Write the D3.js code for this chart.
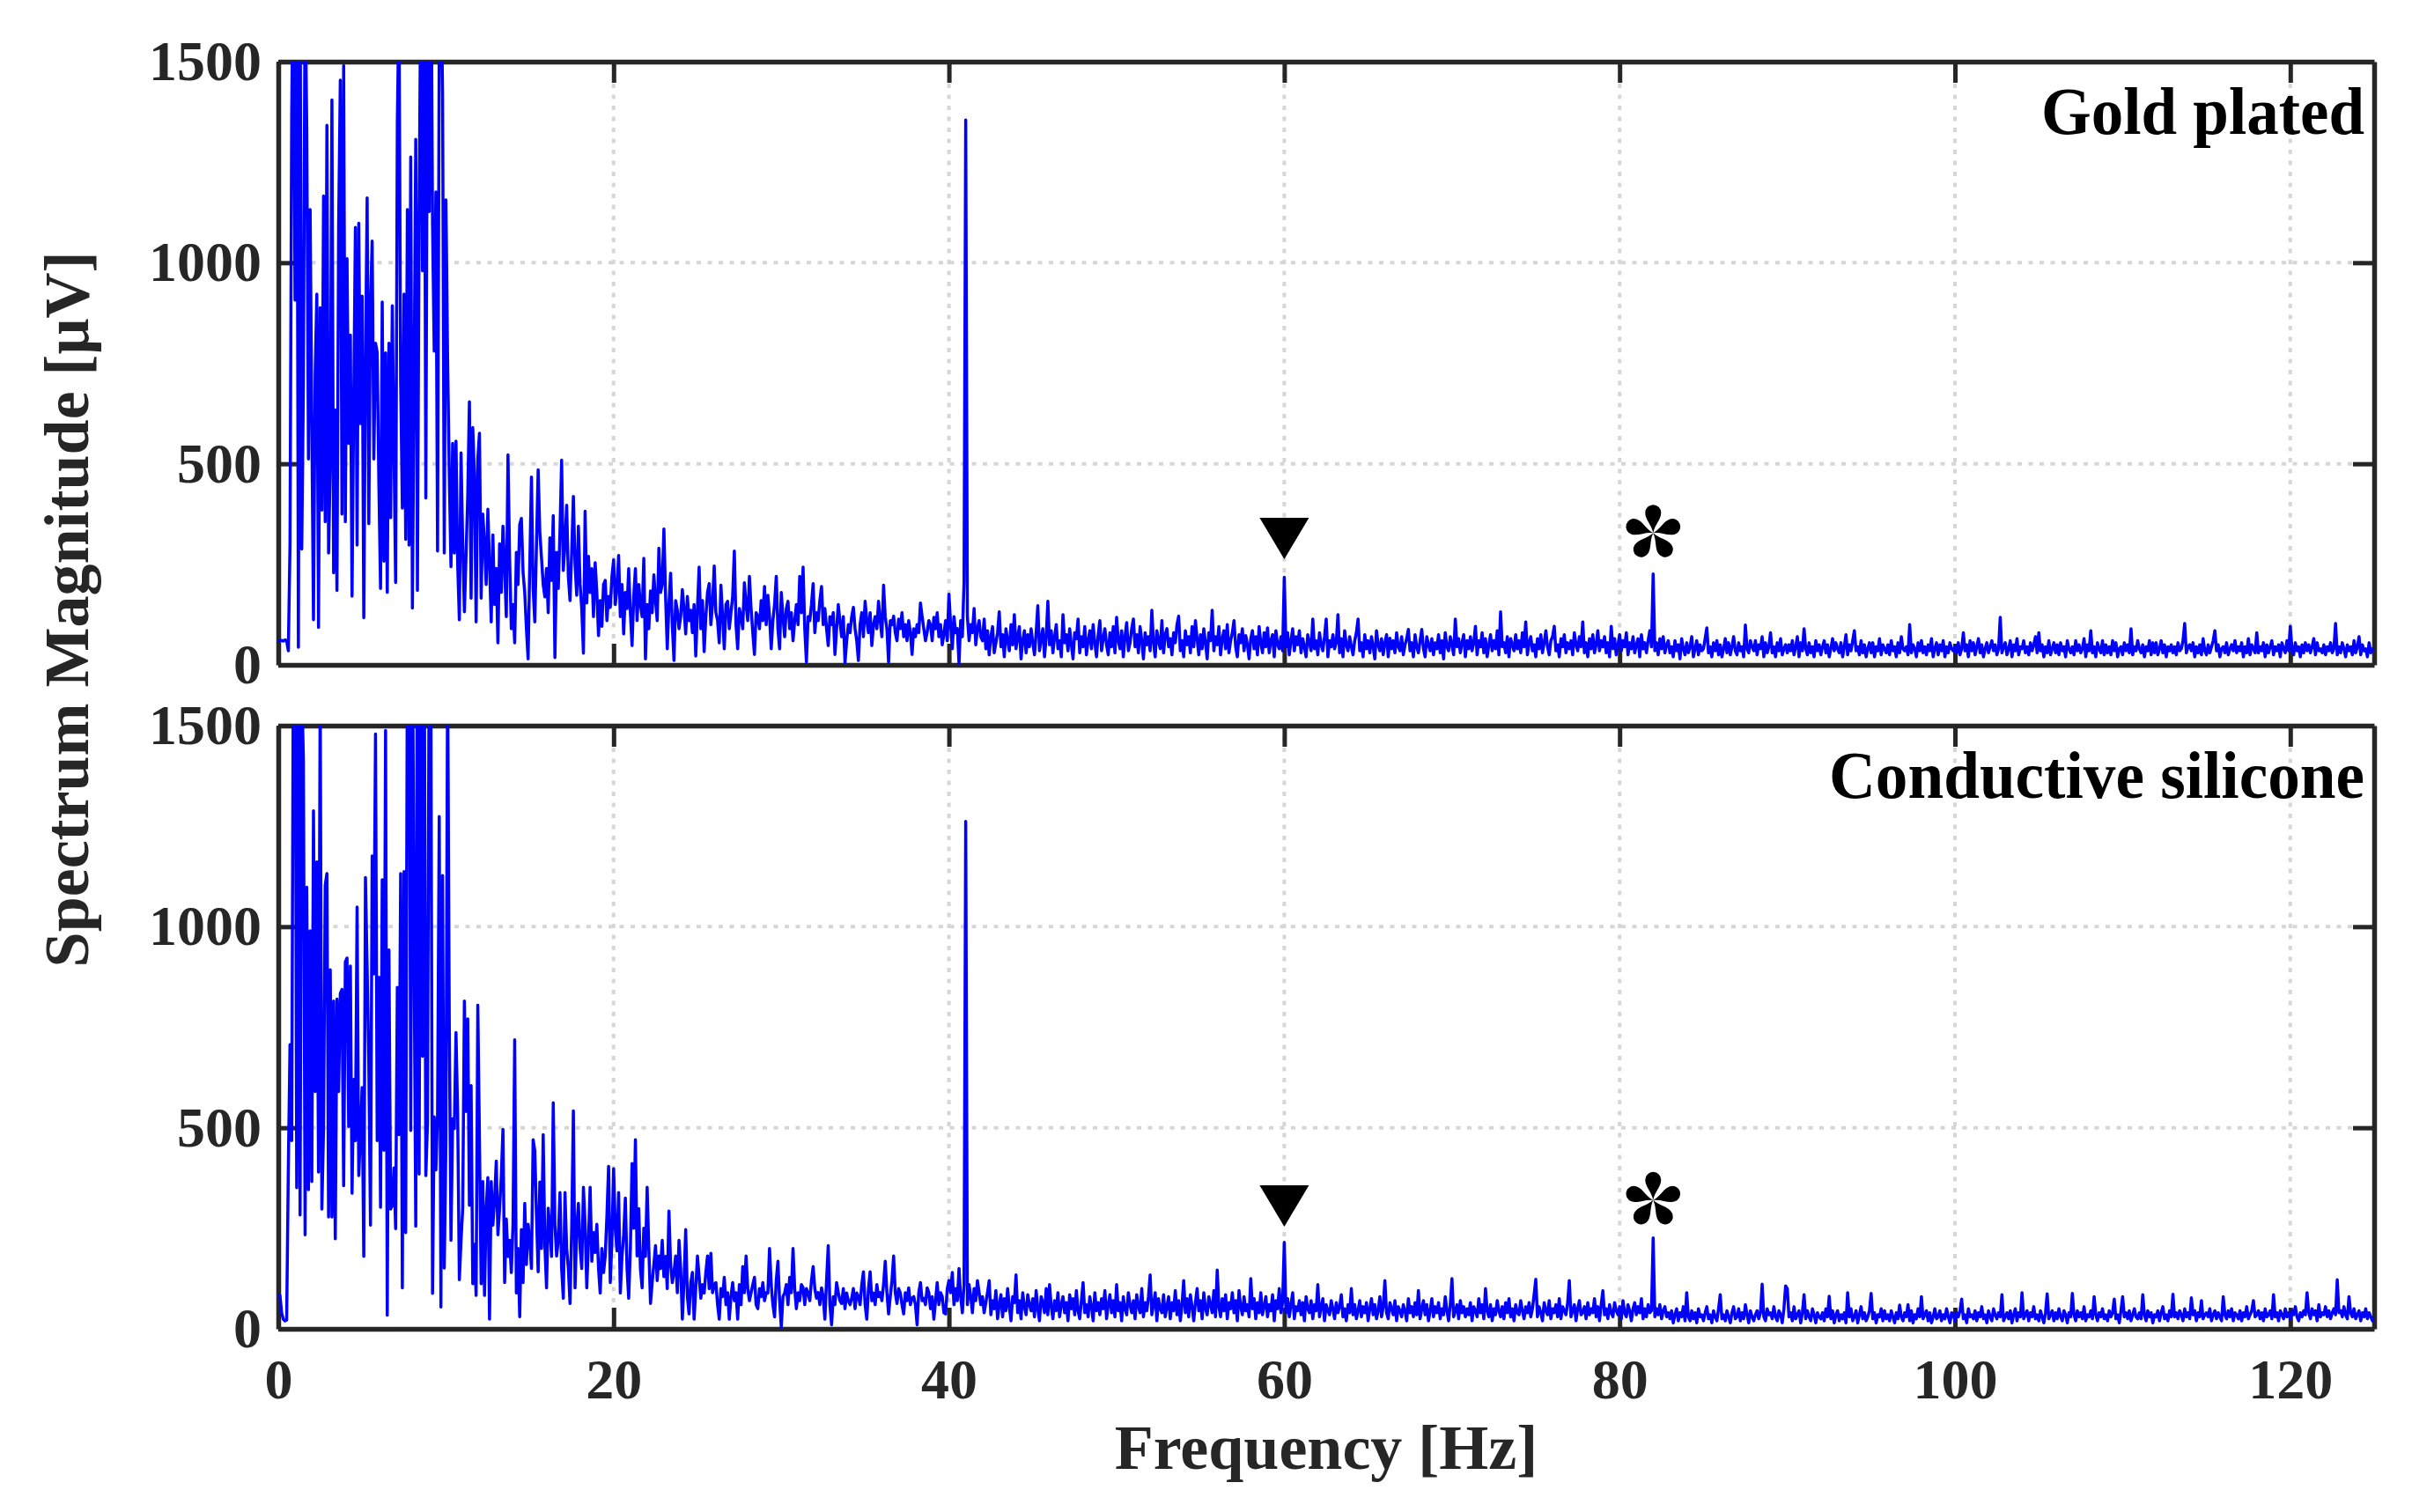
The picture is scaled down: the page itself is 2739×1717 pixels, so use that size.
<!DOCTYPE html>
<html>
<head>
<meta charset="utf-8">
<script src="https://cdn.jsdelivr.net/npm/d3@7"></script>
<style>
  body { margin: 0; background: #fff; }
  text { font-family: "Liberation Serif", "Times New Roman", serif; font-weight: bold; }
</style>
</head>
<body>
<div id="chart"></div>
<script>
// spectrum magnitude [uV], one value every freqStep Hz (10 values = 1 Hz per row)
const freqStep = 0.1;

const goldPlated = [
  58, 60, 61, 59, 62, 60, 35, 300, 1366, 1800,
  907, 1900, 44, 1750, 288, 700, 1700, 1330, 512, 1132,
  600, 112, 722, 922, 93, 888, 385, 1166, 356, 1342,
  278, 500, 1405, 229, 634, 185, 1093, 1454, 375, 1490,
  356, 1010, 551, 820, 171, 659, 1088, 298, 1098, 600,
  917, 117, 747, 1161, 351, 902, 1054, 512, 800, 776,
  450, 190, 902, 258, 776, 180, 800, 366, 893, 540,
  205, 1346, 1650, 700, 390, 922, 312, 1132, 298, 1263,
  141, 700, 1307, 185, 1122, 1700, 980, 1800, 415, 1600,
  1127, 1900, 1100, 780, 1176, 283, 1560, 1750, 1420, 278,
  1156, 756, 473, 244, 551, 278, 556, 249, 112, 527,
  300, 132, 273, 420, 654, 166, 590, 473, 107, 512,
  576, 166, 375, 302, 200, 387, 250, 107, 323, 150,
  240, 55, 301, 180, 345, 246, 120, 522, 260, 90,
  150, 55, 280, 200, 349, 364, 230, 180, 90, 15,
  250, 467, 190, 107, 300, 485, 330, 265, 200, 169,
  240, 130, 316, 210, 371, 18, 280, 190, 330, 509,
  235, 300, 397, 220, 160, 280, 419, 250, 173, 345,
  200, 140, 29, 382, 154, 270, 180, 239, 120, 254,
  180, 73, 160, 96, 200, 210, 110, 170, 143, 220,
  261, 150, 190, 272, 120, 200, 77, 180, 140, 239,
  130, 48, 170, 239, 110, 200, 150, 120, 265, 15,
  150, 90, 184, 130, 224, 160, 110, 290, 180, 200,
  338, 170, 40, 150, 228, 100, 11, 160, 136, 90,
  120, 187, 140, 77, 170, 110, 136, 80, 150, 22,
  140, 243, 90, 160, 33, 120, 180, 202, 100, 150,
  246, 130, 110, 55, 198, 120, 40, 150, 158, 90,
  130, 170, 283, 100, 40, 140, 120, 90, 204, 150,
  110, 220, 140, 80, 26, 130, 121, 90, 160, 110,
  195, 100, 173, 120, 40, 110, 150, 220, 90, 40,
  180, 120, 70, 140, 158, 90, 130, 60, 110, 150,
  100, 220, 130, 243, 90, 7, 120, 110, 150, 202,
  80, 130, 110, 160, 195, 100, 140, 90, 48, 120,
  100, 130, 26, 90, 150, 107, 70, 120, 5, 60,
  100, 80, 120, 143, 90, 60, 11, 100, 130, 70,
  158, 110, 80, 130, 48, 100, 120, 90, 158, 110,
  70, 198, 120, 90, 7, 110, 100, 121, 80, 60,
  114, 90, 130, 70, 100, 60, 110, 80, 26, 90,
  70, 100, 80, 154, 120, 90, 60, 81, 110, 100,
  60, 118, 90, 130, 70, 100, 50, 77, 110, 60,
  176, 100, 40, 120, 80, 90, 4, 110, 70, 206,
  1355, 120, 60, 100, 80, 140, 50, 90, 110, 70,
  60, 114, 40, 85, 25, 70, 95, 30, 55, 80,
  132, 45, 75, 20, 90, 60, 35, 100, 50, 125,
  40, 70, 95, 15, 60, 85, 30, 75, 45, 90,
  55, 25, 80, 147, 35, 65, 90, 20, 70, 158,
  50, 85, 30, 70, 100, 40, 60, 20, 125, 55,
  75, 35, 90, 50, 15, 80, 65, 114, 30, 70,
  45, 95, 25, 60, 85, 40, 100, 55, 20, 75,
  110, 35, 65, 90, 50, 25, 80, 45, 95, 30,
  118, 60, 40, 85, 20, 70, 105, 35, 55, 90,
  114, 45, 75, 30, 95, 60, 15, 80, 50, 70,
  35, 136, 55, 20, 85, 60, 40, 110, 30, 75,
  90, 45, 65, 25, 80, 55, 100, 121, 35, 60,
  20, 85, 50, 70, 30, 95, 45, 110, 65, 25,
  75, 40, 90, 55, 15, 80, 60, 136, 35, 70,
  50, 95, 25, 65, 85, 40, 100, 30, 60, 80,
  110, 45, 20, 75, 55, 90, 35, 73, 50, 15,
  65, 85, 40, 70, 25, 95, 55, 30, 80, 45,
  92, 30, 60, 75, 20, 85, 50, 40, 70, 35,
  218, 45, 80, 25, 60, 90, 35, 70, 50, 85,
  30, 65, 45, 20, 75, 55, 35, 114, 40, 60,
  25, 80, 50, 35, 70, 114, 20, 60, 45, 75,
  40, 55, 125, 30, 65, 20, 85, 50, 35, 70,
  45, 25, 60, 80, 114, 35, 55, 20, 75, 40,
  60, 30, 70, 45, 15, 85, 50, 35, 65, 25,
  55, 75, 20, 66, 40, 60, 30, 80, 45, 35,
  70, 25, 50, 65, 88, 35, 55, 20, 75, 45,
  30, 60, 88, 40, 20, 70, 50, 35, 65, 25,
  55, 40, 75, 30, 60, 15, 80, 45, 35, 70,
  50, 25, 114, 45, 65, 30, 55, 75, 20, 60,
  40, 70, 35, 55, 96, 25, 60, 45, 80, 30,
  65, 20, 50, 75, 35, 60, 40, 85, 25, 132,
  45, 55, 30, 70, 20, 65, 50, 35, 75, 40,
  60, 30, 80, 45, 107, 25, 55, 70, 35, 50,
  20, 65, 40, 75, 30, 55, 85, 45, 25, 60,
  70, 96, 35, 50, 20, 65, 45, 75, 30, 55,
  40, 60, 25, 80, 50, 35, 70, 45, 107, 30,
  55, 20, 65, 40, 75, 30, 50, 85, 35, 60,
  45, 70, 30, 55, 20, 96, 40, 65, 25, 50,
  75, 35, 60, 45, 80, 25, 55, 40, 70, 30,
  50, 65, 20, 75, 40, 55, 30, 60, 85, 45,
  226, 35, 55, 25, 65, 40, 70, 30, 50, 60,
  30, 45, 20, 60, 35, 50, 15, 65, 40, 25,
  55, 30, 45, 70, 20, 40, 60, 25, 50, 35,
  40, 65, 92, 30, 45, 20, 55, 35, 60, 25,
  50, 20, 40, 65, 30, 55, 25, 45, 70, 35,
  25, 55, 35, 45, 20, 99, 40, 30, 60, 45,
  35, 60, 25, 50, 40, 70, 20, 55, 30, 45,
  80, 30, 45, 20, 55, 35, 65, 25, 40, 50,
  30, 50, 35, 60, 25, 45, 70, 20, 55, 35,
  90, 40, 25, 55, 30, 45, 20, 60, 35, 50,
  25, 45, 60, 30, 50, 20, 40, 65, 35, 55,
  40, 30, 55, 20, 45, 75, 25, 50, 35, 60,
  85, 35, 45, 25, 60, 30, 50, 20, 40, 55,
  30, 55, 20, 45, 35, 65, 25, 50, 40, 30,
  50, 25, 60, 35, 45, 20, 55, 30, 70, 40,
  35, 45, 25, 100, 30, 50, 40, 20, 55, 35,
  60, 30, 45, 25, 50, 35, 65, 20, 40, 55,
  25, 50, 35, 60, 20, 45, 30, 55, 40, 35,
  45, 30, 55, 25, 40, 80, 35, 50, 20, 60,
  35, 55, 25, 45, 65, 30, 50, 20, 40, 55,
  30, 45, 60, 35, 50, 25, 40, 118, 30, 45,
  55, 25, 40, 60, 20, 50, 35, 65, 25, 45,
  40, 60, 30, 45, 25, 55, 35, 50, 70, 30,
  80, 35, 50, 20, 45, 30, 60, 25, 40, 55,
  30, 50, 25, 55, 35, 45, 20, 60, 40, 30,
  45, 25, 60, 35, 50, 30, 40, 65, 20, 50,
  35, 85, 30, 45, 20, 55, 40, 30, 60, 25,
  50, 30, 45, 25, 60, 35, 55, 20, 40, 45,
  25, 55, 35, 50, 30, 90, 25, 45, 35, 60,
  40, 30, 50, 20, 45, 35, 60, 25, 55, 30,
  55, 25, 40, 60, 30, 50, 20, 45, 35, 50,
  30, 45, 25, 55, 35, 40, 60, 103, 30, 45,
  50, 35, 55, 20, 45, 30, 50, 25, 65, 35,
  25, 50, 30, 45, 60, 85, 35, 50, 20, 40,
  45, 30, 55, 25, 40, 50, 35, 60, 30, 45,
  35, 55, 20, 45, 30, 65, 25, 50, 40, 30,
  80, 30, 45, 35, 55, 20, 50, 30, 45, 60,
  25, 45, 35, 50, 20, 55, 40, 30, 60, 35,
  96, 40, 25, 55, 35, 45, 20, 50, 30, 55,
  35, 50, 30, 45, 65, 25, 55, 35, 40, 30,
  50, 25, 45, 35, 55, 30, 40, 103, 25, 45,
  30, 55, 40, 20, 50, 35, 45, 25, 60, 30,
  45, 70, 25, 50, 35, 40, 20, 55, 30, 40,
  35
];

const conductiveSilicone = [
  85, 83, 40, 24, 20, 22, 400, 707, 468, 1700,
  1900, 351, 1750, 283, 1600, 1415, 234, 1098, 346, 990,
  366, 1288, 590, 1161, 390, 1600, 298, 498, 1103, 1132,
  278, 893, 278, 815, 224, 820, 590, 834, 844, 356,
  912, 922, 503, 902, 337, 620, 468, 1049, 381, 483,
  600, 180, 1122, 898, 659, 258, 1176, 883, 1479, 468,
  874, 302, 1117, 444, 1488, 34, 942, 298, 307, 400,
  249, 849, 483, 1132, 102, 1137, 239, 1700, 1900, 493,
  1800, 937, 255, 1900, 385, 1750, 678, 1850, 381, 512,
  1700, 1600, 88, 527, 395, 532, 1274, 54, 1127, 151,
  464, 1650, 756, 220, 522, 498, 737, 532, 122, 220,
  300, 815, 541, 771, 307, 605, 112, 210, 83, 805,
  468, 112, 366, 83, 298, 376, 24, 366, 258, 320,
  417, 234, 300, 378, 496, 115, 273, 180, 220, 140,
  260, 719, 89, 200, 30, 247, 115, 312, 160, 260,
  220, 150, 470, 443, 280, 142, 365, 200, 483, 207,
  102, 300, 247, 180, 562, 260, 181, 220, 339, 150,
  76, 339, 200, 150, 63, 250, 542, 102, 250, 312,
  200, 150, 352, 260, 102, 220, 352, 168, 240, 190,
  260, 150, 89, 200, 140, 181, 280, 404, 115, 220,
  398, 250, 194, 339, 89, 180, 234, 325, 150, 76,
  200, 411, 250, 470, 181, 299, 150, 102, 250, 180,
  352, 200, 63, 115, 160, 207, 120, 181, 150, 220,
  130, 180, 100, 293, 160, 115, 140, 181, 90, 220,
  150, 24, 120, 247, 80, 37, 115, 140, 24, 100,
  181, 130, 76, 110, 89, 140, 181, 100, 188, 90,
  110, 115, 60, 24, 100, 80, 128, 60, 90, 24,
  80, 115, 70, 90, 24, 110, 60, 155, 90, 181,
  100, 70, 90, 110, 128, 60, 50, 100, 80, 115,
  70, 90, 89, 200, 110, 60, 30, 120, 168, 70,
  4, 80, 89, 110, 60, 128, 90, 200, 100, 50,
  90, 70, 110, 102, 60, 100, 89, 70, 120, 155,
  100, 76, 90, 60, 102, 80, 24, 120, 207, 60,
  10, 80, 60, 115, 90, 70, 63, 100, 50, 89,
  70, 60, 76, 100, 50, 89, 80, 60, 110, 142,
  60, 24, 100, 142, 70, 89, 60, 110, 80, 90,
  70, 110, 168, 90, 37, 80, 120, 181, 90, 63,
  100, 89, 60, 37, 90, 70, 102, 60, 76, 80,
  60, 10, 90, 115, 70, 76, 60, 102, 90, 50,
  80, 24, 70, 115, 60, 90, 80, 40, 37, 100,
  120, 90, 140, 60, 100, 70, 150, 80, 40, 110,
  1262, 60, 110, 80, 40, 100, 70, 120, 90, 60,
  80, 40, 65, 90, 120, 35, 70, 50, 95, 25,
  60, 85, 30, 75, 45, 100, 55, 20, 80, 65,
  134, 40, 70, 25, 90, 55, 35, 85, 60, 45,
  75, 30, 95, 50, 20, 80, 65, 40, 100, 35,
  110, 55, 25, 70, 45, 90, 30, 60, 80, 40,
  65, 20, 85, 50, 75, 35, 95, 45, 25, 70,
  115, 40, 60, 30, 80, 55, 20, 90, 45, 65,
  35, 75, 50, 95, 25, 60, 85, 40, 70, 30,
  110, 45, 65, 20, 80, 50, 35, 90, 60, 40,
  70, 25, 85, 55, 40, 100, 30, 65, 45, 80,
  134, 35, 60, 90, 20, 75, 50, 40, 85, 30,
  55, 80, 25, 65, 45, 95, 35, 70, 20, 60,
  120, 40, 75, 30, 85, 55, 20, 65, 100, 45,
  70, 25, 90, 50, 35, 80, 60, 40, 95, 30,
  146, 55, 30, 75, 45, 85, 25, 65, 50, 90,
  40, 70, 20, 95, 55, 35, 80, 45, 60, 30,
  125, 50, 75, 25, 65, 40, 90, 35, 55, 80,
  30, 60, 45, 85, 20, 70, 50, 100, 40, 65,
  215, 40, 75, 30, 60, 90, 25, 55, 45, 70,
  35, 65, 20, 80, 50, 40, 70, 25, 60, 45,
  110, 30, 55, 75, 20, 60, 45, 35, 70, 50,
  25, 65, 40, 55, 85, 30, 50, 20, 60, 40,
  100, 35, 60, 25, 45, 70, 30, 55, 40, 65,
  20, 50, 75, 35, 60, 25, 45, 80, 30, 55,
  120, 40, 25, 65, 50, 35, 70, 20, 55, 45,
  30, 60, 45, 20, 75, 40, 55, 30, 65, 35,
  95, 25, 50, 70, 35, 60, 20, 45, 75, 30,
  55, 40, 65, 25, 50, 35, 80, 45, 20, 60,
  125, 30, 45, 60, 25, 70, 40, 55, 30, 50,
  35, 65, 20, 55, 45, 30, 75, 40, 60, 25,
  100, 45, 30, 60, 20, 50, 35, 70, 45, 30,
  55, 25, 65, 40, 75, 30, 50, 20, 60, 40,
  35, 70, 45, 25, 55, 40, 65, 30, 50, 85,
  123, 30, 55, 40, 20, 65, 45, 35, 70, 25,
  50, 40, 60, 30, 75, 25, 55, 45, 35, 65,
  120, 30, 45, 60, 20, 50, 70, 35, 40, 55,
  25, 65, 35, 50, 40, 75, 30, 55, 20, 60,
  95, 35, 50, 25, 60, 40, 30, 65, 45, 35,
  55, 25, 70, 40, 30, 60, 45, 20, 50, 65,
  35, 55, 40, 75, 25, 50, 30, 60, 40, 45,
  226, 30, 50, 35, 60, 25, 45, 55, 30, 40,
  25, 45, 15, 35, 50, 20, 40, 30, 55, 20,
  90, 30, 20, 45, 25, 40, 15, 50, 30, 35,
  20, 40, 55, 25, 35, 15, 45, 30, 20, 50,
  85, 25, 35, 20, 45, 30, 15, 40, 55, 25,
  30, 50, 20, 40, 25, 60, 35, 15, 45, 30,
  20, 35, 45, 25, 40, 111, 30, 20, 50, 35,
  40, 25, 55, 30, 20, 45, 35, 15, 50, 107,
  100, 30, 40, 20, 55, 25, 35, 45, 15, 40,
  85, 25, 45, 30, 20, 50, 35, 15, 40, 30,
  25, 40, 20, 50, 30, 81, 25, 45, 15, 35,
  45, 20, 35, 25, 40, 15, 90, 30, 50, 20,
  30, 45, 15, 35, 55, 25, 40, 20, 30, 45,
  88, 25, 40, 15, 35, 30, 50, 20, 45, 25,
  35, 20, 45, 30, 15, 40, 25, 59, 30, 20,
  40, 30, 60, 20, 45, 15, 35, 25, 50, 30,
  80, 25, 35, 45, 20, 40, 15, 30, 50, 25,
  30, 45, 20, 35, 25, 50, 30, 15, 40, 35,
  20, 40, 30, 45, 74, 25, 35, 15, 50, 30,
  35, 25, 45, 20, 40, 30, 55, 25, 35, 15,
  45, 30, 20, 50, 35, 25, 40, 30, 85, 20,
  30, 40, 25, 45, 15, 35, 50, 20, 40, 30,
  90, 25, 35, 45, 20, 40, 30, 55, 25, 35,
  20, 45, 30, 15, 40, 87, 25, 35, 45, 20,
  40, 25, 50, 30, 20, 45, 35, 15, 40, 30,
  88, 35, 20, 45, 30, 40, 25, 55, 20, 35,
  30, 45, 25, 80, 35, 20, 40, 30, 50, 25,
  35, 20, 45, 30, 40, 74, 25, 35, 15, 45,
  80, 30, 40, 25, 45, 20, 35, 50, 30, 25,
  40, 25, 85, 35, 20, 45, 30, 40, 15, 35,
  30, 45, 20, 40, 55, 25, 35, 20, 45, 30,
  86, 30, 40, 25, 45, 35, 20, 50, 30, 40,
  25, 77, 35, 45, 20, 40, 30, 70, 25, 35,
  40, 30, 50, 20, 35, 45, 25, 40, 30, 20,
  80, 35, 25, 45, 30, 50, 20, 40, 35, 25,
  45, 20, 40, 30, 55, 25, 35, 45, 70, 30,
  35, 45, 25, 40, 20, 50, 30, 35, 45, 25,
  85, 30, 40, 20, 45, 35, 25, 50, 30, 40,
  25, 45, 35, 55, 30, 20, 40, 30, 45, 35,
  90, 40, 25, 50, 35, 45, 20, 60, 30, 40,
  35, 55, 30, 45, 25, 40, 50, 35, 122, 40,
  45, 30, 55, 35, 25, 80, 40, 30, 50, 25,
  35, 45, 20, 40, 30, 50, 25, 40, 30, 20,
  30
];

const panelSeries = [goldPlated, conductiveSilicone];
const panelLabels = ["Gold plated", "Conductive silicone"];
const xTicks = [0, 20, 40, 60, 80, 100, 120];
const yTicks = [0, 500, 1000, 1500];

// annotation marks: inverted triangle over 60 Hz, asterisk over 82 Hz
const triangleFreq = 60;
const triangleTipValues = [263, 254];
const asteriskFreq = 82;
const asteriskCenterValues = [328, 320];

const width = 2739;
const height = 1717;
const plotLeft = 316;
const plotRight = 2696;
const panelTops = [70, 824];
const panelHeight = 685;
const tickLen = 24;
const axisColor = "#262626";

const svg = d3
  .select("#chart")
  .append("svg")
  .attr("width", width)
  .attr("height", height)
  .attr("viewBox", `0 0 ${width} ${height}`);

svg.append("rect").attr("width", width).attr("height", height).attr("fill", "#fff");

const x = d3.scaleLinear().domain([0, 125]).range([plotLeft, plotRight]);

// petal shape for the asterisk (pointing up, centre at 0,0)
const petal = "M0,0 C-2,-10 -9,-15 -9,-23 A9,9 0 1 1 9,-23 C9,-15 2,-10 0,0 Z";

panelSeries.forEach((series, i) => {
  const top = panelTops[i];
  const bottom = top + panelHeight;
  const y = d3.scaleLinear().domain([0, 1500]).range([bottom, top]);

  const g = svg.append("g").attr("class", "panel");

  // dotted grid
  g.append("g")
    .selectAll("line")
    .data(xTicks)
    .enter()
    .append("line")
    .attr("x1", d => x(d))
    .attr("x2", d => x(d))
    .attr("y1", top)
    .attr("y2", bottom)
    .attr("stroke", "#d6d6d6")
    .attr("stroke-width", 4)
    .attr("stroke-dasharray", "5 7.5");

  g.append("g")
    .selectAll("line")
    .data(yTicks)
    .enter()
    .append("line")
    .attr("x1", plotLeft)
    .attr("x2", plotRight)
    .attr("y1", d => y(d))
    .attr("y2", d => y(d))
    .attr("stroke", "#d6d6d6")
    .attr("stroke-width", 4)
    .attr("stroke-dasharray", "5 7.5");

  // axes box with inward ticks on all four sides
  const styleAxis = sel => {
    sel.select(".domain").attr("stroke", axisColor).attr("stroke-width", 5.5);
    sel.selectAll(".tick line").attr("stroke", axisColor).attr("stroke-width", 5);
    sel.selectAll(".tick text")
      .attr("fill", axisColor)
      .style("font-size", "64px");
  };

  g.append("g")
    .attr("transform", `translate(0,${bottom})`)
    .call(
      d3.axisBottom(x)
        .tickValues(xTicks)
        .tickSizeInner(-tickLen)
        .tickSizeOuter(0)
        .tickPadding(34)
        .tickFormat(i === panelSeries.length - 1 ? d3.format("d") : "")
    )
    .call(styleAxis);

  g.append("g")
    .attr("transform", `translate(0,${top})`)
    .call(d3.axisTop(x).tickValues(xTicks).tickSizeInner(-tickLen).tickSizeOuter(0).tickFormat(""))
    .call(styleAxis);

  g.append("g")
    .attr("transform", `translate(${plotLeft},0)`)
    .call(
      d3.axisLeft(y)
        .tickValues(yTicks)
        .tickSizeInner(-tickLen)
        .tickSizeOuter(0)
        .tickPadding(19)
        .tickFormat(d3.format("d"))
    )
    .call(styleAxis);

  g.append("g")
    .attr("transform", `translate(${plotRight},0)`)
    .call(d3.axisRight(y).tickValues(yTicks).tickSizeInner(-tickLen).tickSizeOuter(0).tickFormat(""))
    .call(styleAxis);

  // spectrum line, clipped to the axes
  const clipId = `clip-${i}`;
  svg.append("clipPath")
    .attr("id", clipId)
    .append("rect")
    .attr("x", plotLeft)
    .attr("y", top)
    .attr("width", plotRight - plotLeft)
    .attr("height", panelHeight);

  const line = d3
    .line()
    .x((d, j) => x(j * freqStep))
    .y(d => y(d));

  g.append("path")
    .datum(series)
    .attr("clip-path", `url(#${clipId})`)
    .attr("fill", "none")
    .attr("stroke", "#0000ff")
    .attr("stroke-width", 3.5)
    .attr("stroke-linejoin", "round")
    .attr("d", line);

  // inverted triangle at 60 Hz
  const tx = x(triangleFreq);
  const ty = y(triangleTipValues[i]);
  g.append("path")
    .attr("d", `M${tx - 28},${ty - 47} L${tx + 28},${ty - 47} L${tx},${ty} Z`)
    .attr("fill", "#000");

  // asterisk at 82 Hz
  const ag = g.append("g")
    .attr("transform", `translate(${x(asteriskFreq)},${y(asteriskCenterValues[i])})`);
  [0, 72, 144, 216, 288].forEach(a => {
    ag.append("path").attr("d", petal).attr("transform", `rotate(${a})`).attr("fill", "#000");
  });

  // panel label, top right
  const label = g.append("text")
    .attr("x", 2685)
    .attr("y", top + 82)
    .attr("text-anchor", "end")
    .attr("fill", "#000")
    .style("font-size", "76px")
    .text(panelLabels[i]);
  label.attr("textLength", i === 0 ? 367 : 608).attr("lengthAdjust", "spacingAndGlyphs");
});

// axis titles
svg.append("text")
  .attr("x", (plotLeft + plotRight) / 2)
  .attr("y", 1668)
  .attr("text-anchor", "middle")
  .attr("fill", axisColor)
  .style("font-size", "72px")
  .text("Frequency [Hz]");

svg.append("text")
  .attr("transform", "translate(100,692) rotate(-90)")
  .attr("text-anchor", "middle")
  .attr("fill", axisColor)
  .style("font-size", "72px")
  .text("Spectrum Magnitude [μV]");
</script>
</body>
</html>
